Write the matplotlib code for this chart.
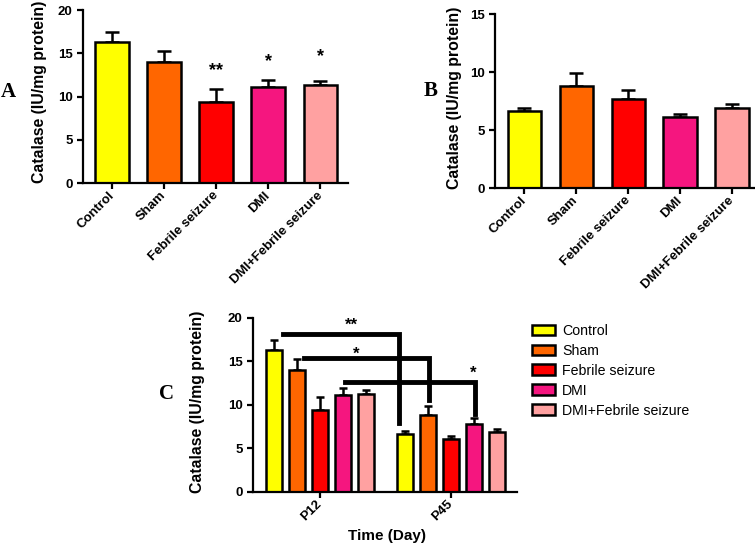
import numpy as np
import matplotlib
matplotlib.use('Agg')
import matplotlib.pyplot as plt
from matplotlib.patches import Patch

plt.rcParams['font.family'] = ['Liberation Sans', 'DejaVu Sans']

groups = ['Control', 'Sham', 'Febrile seizure', 'DMI', 'DMI+Febrile seizure']
colors = ['#FFFF00', '#FF6600', '#FF0000', '#F5167F', '#FFA1A1']

# panel A (P12)
a_mean = [16.35, 14.0, 9.4, 11.1, 11.3]
a_err = [1.15, 1.3, 1.5, 0.8, 0.45]
a_stars = ['', '', '**', '*', '*']
a_star_y = [0, 0, 12.0, 13.1, 13.6]

# panel B (P45)
b_mean = [6.65, 8.84, 7.7, 6.13, 6.88]
b_err = [0.3, 1.1, 0.78, 0.23, 0.35]

# panel C
days = ['P12', 'P45']
c_mean = {'P12': [16.35, 14.0, 9.4, 11.1, 11.3],
          'P45': [6.7, 8.8, 6.1, 7.8, 6.9]}
c_err = {'P12': [1.15, 1.3, 1.5, 0.8, 0.45],
         'P45': [0.27, 1.1, 0.3, 0.7, 0.3]}
# brackets: x start, x end (drop), y level, y bottom of drop, label, label x, label y
brackets = [(-0.28, 0.6, 18.2, 7.9, '**', 0.24, 18.25),
            (-0.12, 0.83, 15.4, 10.6, '*', 0.28, 14.95),
            (0.19, 1.18, 12.6, 9.0, '*', 1.17, 12.75)]

fig = plt.figure(figsize=(7.55, 5.44), dpi=100)

tick_font = dict(fontsize=9.5, fontweight='bold')
ylab = 'Catalase (IU/mg protein)'


def style_axes(ax):
    for s in ['top', 'right']:
        ax.spines[s].set_visible(False)
    for s in ['left', 'bottom']:
        ax.spines[s].set_linewidth(1.6)
    ax.tick_params(width=1.6, length=4, direction='out')
    for lab in ax.get_yticklabels():
        lab.set_fontsize(9.5)
        lab.set_fontweight('bold')


def bar_panel(ax, means, errs, ymax, yticks):
    x = np.arange(len(means))
    ax.bar(x, means, width=0.65, color=colors, edgecolor='black', linewidth=1.8, zorder=2)
    ax.errorbar(x, means, yerr=[np.zeros(len(errs)), errs], fmt='none', ecolor='black',
                elinewidth=1.8, capsize=5, capthick=1.8, zorder=1)
    ax.set_ylim(0, ymax)
    ax.set_yticks(yticks)
    ax.set_xticks(x)
    ax.set_xticklabels(groups, rotation=45, ha='right', va='center', rotation_mode='anchor', **tick_font)
    style_axes(ax)
    ax.set_ylabel(ylab, fontsize=11.4, fontweight='bold')


# A
axA = fig.add_axes([0.110, 0.6636, 0.351, 0.318])
bar_panel(axA, a_mean, a_err, 20, [0, 5, 10, 15, 20])
axA.set_xlim(-0.557, 4.53)
axA.yaxis.set_label_coords(-0.135, 0.53)
for i, s in enumerate(a_stars):
    if s:
        axA.text(i, a_star_y[i], s, ha='center', va='bottom', fontsize=13, fontweight='bold')

# B
axB = fig.add_axes([0.6556, 0.654, 0.344, 0.32])
bar_panel(axB, b_mean, b_err, 15, [0, 5, 10, 15])
axB.set_xlim(-0.567, 4.43)
axB.yaxis.set_label_coords(-0.127, 0.52)

# C
axC = fig.add_axes([0.335, 0.0956, 0.350, 0.32])
slot = 0.1756
w = 0.122
for j, d in enumerate(days):
    xs = j + (np.arange(5) - 2) * slot
    axC.bar(xs, c_mean[d], width=w, color=colors, edgecolor='black', linewidth=1.8, zorder=2)
    axC.errorbar(xs, c_mean[d], yerr=[np.zeros(5), c_err[d]], fmt='none', ecolor='black',
                 elinewidth=1.8, capsize=3, capthick=1.8, zorder=1)
for x0, x1, yl, yb, s, tx, ty in brackets:
    axC.plot([x0, x1, x1], [yl, yl, yb], color='black', lw=3.5, solid_joinstyle='miter', zorder=3)
    axC.text(tx, ty, s, ha='center', va='bottom', fontsize=12, fontweight='bold')
axC.set_ylim(0, 20)
axC.set_yticks([0, 5, 10, 15, 20])
axC.set_xlim(-0.511, 1.504)
axC.set_xticks([0, 1])
axC.set_xticklabels(days, rotation=45, ha='right', va='center', rotation_mode='anchor', **tick_font)
style_axes(axC)
axC.set_ylabel(ylab, fontsize=11.4, fontweight='bold')
axC.yaxis.set_label_coords(-0.18, 0.52)
axC.set_xlabel('Time (Day)', fontsize=11, fontweight='bold')
axC.xaxis.set_label_coords(0.507, -0.215)

handles = [Patch(facecolor=c, edgecolor='black', linewidth=1.8) for c in colors]
fig.legend(handles, groups, loc='upper left', bbox_to_anchor=(0.688, 0.428), frameon=False,
           fontsize=10.2, handlelength=1.6, handleheight=0.8, labelspacing=0.42, handletextpad=0.5)

# panel letters
fig.text(0.011, 0.831, 'A', fontsize=15, fontweight='bold', family='Liberation Serif', ha='center', va='center')
fig.text(0.570, 0.833, 'B', fontsize=15, fontweight='bold', family='Liberation Serif', ha='center', va='center')
fig.text(0.221, 0.276, 'C', fontsize=15, fontweight='bold', family='Liberation Serif', ha='center', va='center')

fig.savefig('out.png', dpi=100)
